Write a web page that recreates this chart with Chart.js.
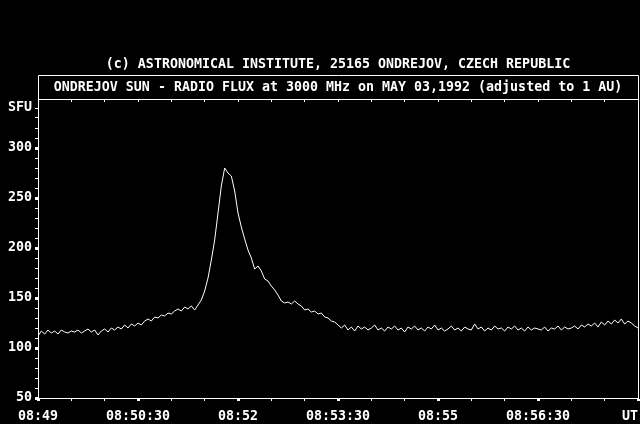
<!DOCTYPE html>
<html>
<head>
<meta charset="utf-8">
<script src="https://cdn.jsdelivr.net/npm/chart.js@4.4.1/dist/chart.umd.min.js"></script>
<style>
  html, body { margin: 0; background: #000; }
  #wrap { width: 640px; height: 424px; }
</style>
</head>
<body>
<div id="wrap"><canvas id="chart" width="640" height="424"></canvas></div>
<script>
const titleLines = [
    '(c) ASTRONOMICAL INSTITUTE, 25165 ONDREJOV, CZECH REPUBLIC',
    'ONDREJOV SUN - RADIO FLUX at 3000 MHz on MAY 03,1992 (adjusted to 1 AU)',
];

// seconds between samples, first sample at 08:49:00
const sampleStep = 3;

// flux in SFU
const fluxSfu = [
    112, 117, 114, 118, 115, 117, 114, 118, 116, 115,
    117, 116, 118, 115, 117, 119, 116, 118, 113, 117,
    119, 116, 120, 118, 121, 119, 123, 120, 124, 122,
    125, 123, 127, 129, 127, 131, 130, 133, 132, 135,
    134, 137, 139, 137, 141, 139, 142, 138, 143, 148,
    157, 170, 188, 208, 235, 262, 280, 275, 272, 257,
    235, 221, 209, 198, 190, 179, 182, 177, 169, 167,
    162, 158, 153, 147, 145, 146, 144, 147, 144, 142,
    138, 139, 136, 137, 134, 135, 131, 130, 127, 126,
    123, 120, 123, 118, 121, 117, 122, 119, 121, 118,
    120, 123, 118, 120, 117, 121, 119, 122, 118, 120,
    116, 121, 119, 122, 118, 120, 117, 121, 119, 123,
    118, 120, 117, 119, 122, 118, 120, 117, 121, 119,
    118, 124, 119, 121, 117, 120, 118, 122, 119, 120,
    117, 121, 119, 122, 118, 120, 117, 121, 118, 120,
    119, 118, 121, 117, 120, 119, 122, 118, 121, 119,
    120, 122, 119, 123, 121, 124, 122, 125, 121, 126,
    123, 127, 124, 128, 125, 129, 124, 127, 125, 122,
    120,
];

// one label every 90 s, last one is the unit
const xTickLabels = ['08:49', '08:50:30', '08:52', '08:53:30', '08:55', '08:56:30', 'UT  '];
const yTickLabels = [50, 100, 150, 200, 250, 300];
const yUnitLabel = 'SFU';
const yUnitValue = 340;

const monoFont = { family: '"DejaVu Sans Mono", monospace', size: 13.3, weight: 'bold' };

const framePlugin = {
    id: 'frame',
    afterDraw(chart) {
        const { ctx, chartArea: a } = chart;
        ctx.save();
        ctx.strokeStyle = '#fff';
        ctx.lineWidth = 1;
        ctx.beginPath();
        // title box
        ctx.moveTo(a.left + 0.5, a.top + 0.5);
        ctx.lineTo(a.left + 0.5, a.top - 23.5);
        ctx.lineTo(a.right + 0.5, a.top - 23.5);
        // right edge of box and plot
        ctx.lineTo(a.right + 0.5, a.bottom + 0.5);
        ctx.stroke();
        ctx.restore();
    },
};

const noSidePadding = (s) => {
    s.paddingLeft = 0;
    s.paddingRight = 0;
};

new Chart(document.getElementById('chart'), {
    type: 'line',
    data: {
        datasets: [{
            data: fluxSfu.map((v, i) => ({ x: i * sampleStep, y: v })),
            borderColor: '#fff',
            borderWidth: 1,
            pointRadius: 0,
            tension: 0,
            fill: false,
        }],
    },
    options: {
        responsive: false,
        animation: false,
        layout: { autoPadding: false, padding: { left: 0, right: 2, top: 0, bottom: 0 } },
        plugins: {
            legend: { display: false },
            tooltip: { enabled: false },
            title: {
                display: true,
                fullSize: false,
                text: titleLines,
                color: '#fff',
                font: { ...monoFont, lineHeight: '23px' },
                padding: { top: 53, bottom: 0 },
            },
        },
        scales: {
            x: {
                type: 'linear',
                position: 'bottom',
                min: 0,
                max: 540,
                afterFit: (s) => { s.height = 26; noSidePadding(s); },
                ticks: {
                    stepSize: 30,
                    autoSkip: false,
                    maxRotation: 0,
                    padding: 8,
                    color: '#fff',
                    font: monoFont,
                    callback: (v) => (v % 90 === 0 ? xTickLabels[v / 90] : ''),
                },
                grid: {
                    drawOnChartArea: false,
                    color: '#fff',
                    tickLength: 3,
                    tickWidth: (c) => (c.tick && c.tick.value % 90 === 0 ? 3 : 1),
                },
                border: { color: '#fff', width: 1 },
            },
            x2: {
                type: 'linear',
                position: 'top',
                min: 0,
                max: 540,
                afterFit: (s) => { s.height = 0; noSidePadding(s); },
                ticks: { stepSize: 30, display: false },
                grid: { drawOnChartArea: false, color: '#fff', tickLength: -3, tickWidth: 1 },
                border: { color: '#fff', width: 1 },
            },
            y: {
                type: 'linear',
                min: 50,
                max: 349,
                afterFit: (s) => { s.width = 38; s.paddingTop = 0; s.paddingBottom = 0; },
                afterBuildTicks: (s) => {
                    s.ticks = s.ticks.filter((t) => t.value % 10 === 0 && t.value <= 349);
                },
                ticks: {
                    stepSize: 10,
                    includeBounds: false,
                    autoSkip: false,
                    padding: 3,
                    color: '#fff',
                    font: monoFont,
                    callback: (v) => (yTickLabels.includes(v) ? String(v) : v === yUnitValue ? yUnitLabel : ''),
                },
                grid: {
                    drawOnChartArea: false,
                    color: '#fff',
                    tickLength: 3,
                    tickWidth: (c) => (c.tick && c.tick.value % 50 === 0 ? 3 : 1),
                },
                border: { color: '#fff', width: 1 },
            },
        },
    },
    plugins: [framePlugin],
});
</script>
</body>
</html>
